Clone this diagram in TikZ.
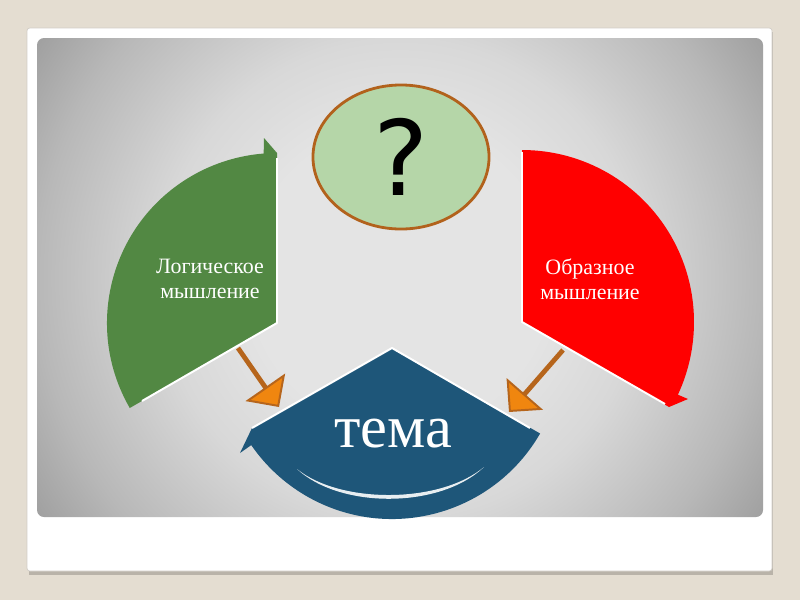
\documentclass[tikz,border=0pt]{standalone}
\usepackage{fontspec}
\setmainfont{Liberation Serif}
\newfontfamily\qmarkfont{DejaVu Sans}
\usetikzlibrary{shapes.geometric, arrows.meta}
\definecolor{pagebeige}{HTML}{E4DDD1}
\definecolor{cardshadow}{HTML}{B9B3A9}
\definecolor{cardrim}{HTML}{D2CEC8}
\definecolor{panelin}{HTML}{E4E4E4}
\definecolor{panelmid}{HTML}{D8D8D8}
\definecolor{panelside}{HTML}{B8B8B8}
\definecolor{panelout}{HTML}{9E9E9E}
\definecolor{logicgreen}{HTML}{528843}
\definecolor{imagered}{HTML}{FF0000}
\definecolor{themeblue}{HTML}{1E5679}
\definecolor{questfill}{HTML}{B5D6A8}
\definecolor{questrim}{HTML}{B2621C}
\definecolor{feedshaft}{HTML}{B6651C}
\definecolor{feedhead}{HTML}{F0860F}
\pgfdeclareradialshading{panelglow}{\pgfpoint{0bp}{0bp}}{%
  color(0bp)=(panelin); color(8.5bp)=(panelin); color(13.6bp)=(panelmid);
  color(20.6bp)=(panelside); color(25bp)=(panelout); color(50bp)=(panelout)}

\begin{document}
\begin{tikzpicture}[
    x=0.025cm, y=-0.025cm,
    every node/.style={font=\rmfamily},
    sectortext/.style={text=white, align=center, font=\fontsize{15.6pt}{17.8pt}\selectfont},
    hilite/.style={white, line width=1.4pt, line join=round},
    feed/.style={draw=feedshaft, line width=3.4pt,
        -{Triangle[length=0.6cm, width=1.2cm, fill=feedhead, line width=1.4pt]}},
]

\useasboundingbox (0,0) rectangle (800,600);

% Background
\fill[pagebeige] (0,0) rectangle (800,600);
\fill[cardshadow] (29,32) rectangle (773,575);
\fill[white, draw=cardrim, line width=0.5pt, rounded corners=2pt] (27,28) rectangle (772,571);
\begin{scope}
  \clip[rounded corners=5pt] (37,38) rectangle (763,517);
  \shade[shading=panelglow] (400,278) circle[radius=440];
\end{scope}

% --- Left: green sector ---
\fill[logicgreen] (277,323) -- ++(150:170) arc[start angle=150, end angle=265.5, radius=170]
    -- (264,138) -- (277,153) -- cycle;
\draw[hilite] (277,158) -- (277,323) -- (142,401);

% --- Right: red sector ---
\fill[imagered] (522,322) -- ++(-90:172) arc[start angle=-90, end angle=25, radius=172]
    -- (688,399) -- (669,407) -- cycle;
\draw[hilite] (522,152) -- (522,322) -- (665,404);

% --- Bottom: blue sector ---
\fill[themeblue] (392,348) -- ++(30:171) arc[start angle=30, end angle=145.4, radius=171]
    -- (240,453) -- (252,428) -- cycle;
\draw[hilite] (252,428) -- (392,348) -- (530,428);
\fill[white, opacity=0.9] (297,469) .. controls (340,509) and (440,509) .. (484,467)
    .. controls (440,504) and (340,504) .. cycle;

% --- Labels ---
\node[sectortext] (logic) at (210,279) {Логическое\\мышление};
\node[sectortext] (image) at (590,279) {Образное\\мышление};
\node[text=white, font=\fontsize{43pt}{48pt}\selectfont] (theme) at (393,434) {тема};

% --- Top: question ellipse ---
\node[ellipse, draw=questrim, fill=questfill, line width=2pt, minimum width=4.4cm, minimum height=3.6cm,
      inner sep=0pt, font=\qmarkfont\fontsize{74pt}{80pt}\selectfont] (quest) at (401,157) {?};

% --- Arrows ---
\coordinate (logicfrom) at (238,348);
\coordinate (logicto) at (279,407);
\coordinate (imagefrom) at (563,350);
\coordinate (imageto) at (509,412);
\draw[feed] (logicfrom) -- (logicto);
\draw[feed] (imagefrom) -- (imageto);

\end{tikzpicture}
\end{document}
